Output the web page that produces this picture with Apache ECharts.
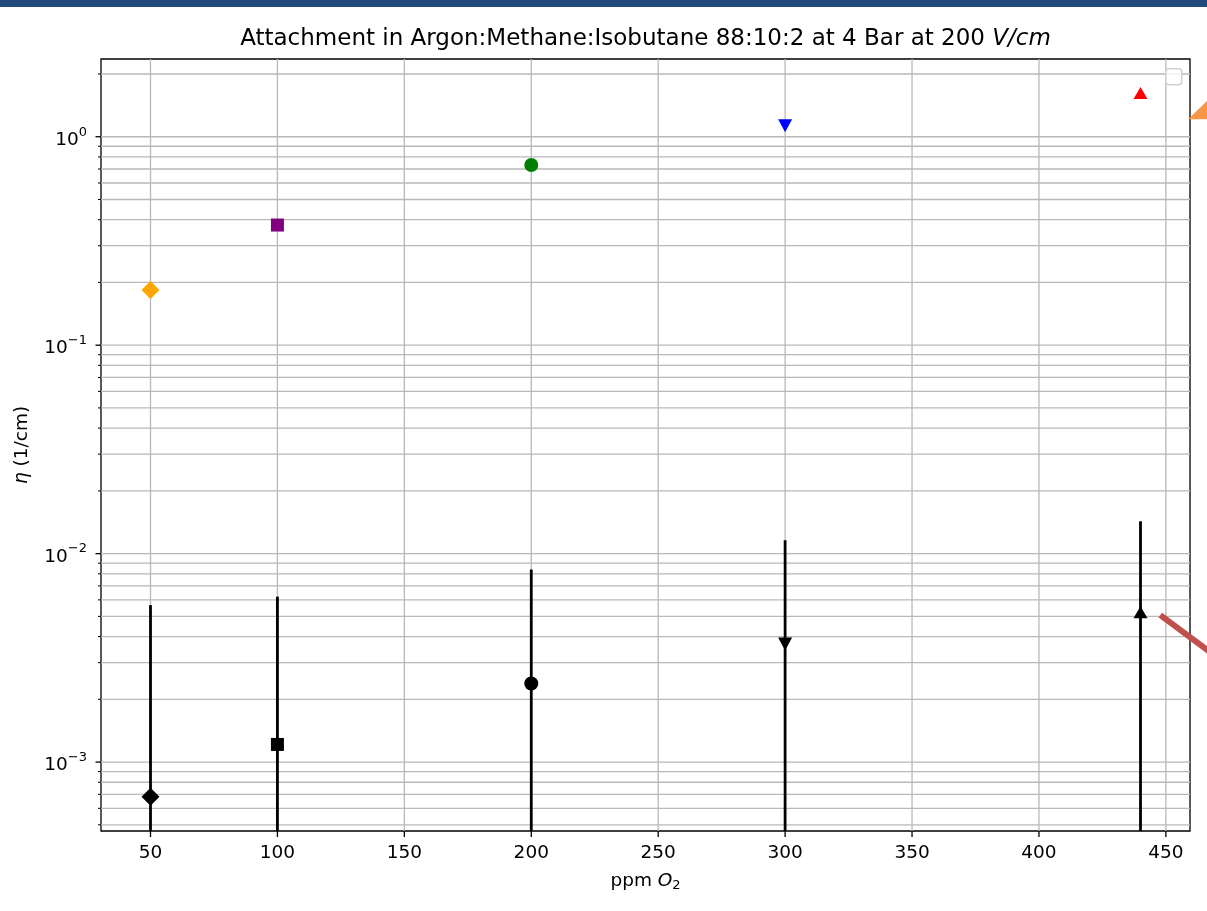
<!DOCTYPE html>
<html>
<head>
<meta charset="utf-8">
<title>Attachment in Argon:Methane:Isobutane</title>
<script src="https://cdn.jsdelivr.net/npm/echarts@6/dist/echarts.min.js"></script>
<style>
  html, body { margin: 0; padding: 0; background: #fff; }
  #chart { width: 1207px; height: 911px; }
</style>
</head>
<body>
<div id="chart"></div>
<script>
/* 刻度 */
const xTicks = [50, 100, 150, 200, 250, 300, 350, 400, 450];
const yMajorTicks = [1e-3, 1e-2, 1e-1, 1];
const yMajorLabels = ["\u22123", "\u22122", "\u22121", "0"]; // 10 的指数
const yMinorTicks = [
  5e-4, 6e-4, 7e-4, 8e-4, 9e-4,
  2e-3, 3e-3, 4e-3, 5e-3, 6e-3, 7e-3, 8e-3, 9e-3,
  2e-2, 3e-2, 4e-2, 5e-2, 6e-2, 7e-2, 8e-2, 9e-2,
  2e-1, 3e-1, 4e-1, 5e-1, 6e-1, 7e-1, 8e-1, 9e-1,
  2
];
const xRange = [30.5, 459.5];
const yRange = [4.67e-4, 2.36];

/* 数据 */
const ppm = [50, 100, 200, 300, 440];
const etaColored = [0.184, 0.377, 0.732, 1.129, 1.62];
const etaBlack = [6.81e-4, 1.215e-3, 2.38e-3, 3.68e-3, 5.24e-3];
const etaBlackErr = [4.98e-3, 5.0e-3, 6.02e-3, 7.92e-3, 9.06e-3];
// 右侧超出坐标区的标记与线段
const outsidePoint = [[464.2, 1.29]];
const outsideLine = [[447.8, 5.07e-3], [480, 2.6e-3]];

/* 每个点的标记样式 */
const markerStyle = [
  { symbol: "diamond", size: 18, color: "#ffa500", rotate: 0 },
  { symbol: "rect", size: 13, color: "#800080", rotate: 0 },
  { symbol: "circle", size: 14, color: "#008000", rotate: 0 },
  { symbol: "triangle", size: [14, 13], color: "#0000ff", rotate: 180 },
  { symbol: "triangle", size: [14, 12], color: "#ff0000", rotate: 0 },
];

const FONT = "DejaVu Sans";
const gridColor = "#b9b9b9";
const tickFont = 18.5;

function markerSeries(values, black) {
  return ppm.map((x, i) => {
    const m = markerStyle[i];
    return {
      type: "scatter",
      z: 5,
      data: [[x, values[i]]],
      symbol: m.symbol,
      symbolSize: m.size,
      symbolRotate: m.rotate,
      itemStyle: { color: black ? "#000" : m.color, opacity: 1 },
    };
  });
}

const yTickValues = yMajorTicks.concat(yMinorTicks);

let option = {
  backgroundColor: "#fff",
  animation: false,
  textStyle: { fontFamily: FONT },
  grid: {
    left: 101,
    right: 17,
    top: 59,
    bottom: 80,
    show: true,
    borderColor: "#000",
    borderWidth: 1.3,
    backgroundColor: "transparent",
  },
  xAxis: {
    type: "value",
    min: xRange[0],
    max: xRange[1],
    axisLine: { show: false },
    axisTick: { show: false },
    axisLabel: { show: false },
    splitLine: { show: false },
  },
  yAxis: {
    type: "log",
    logBase: 10,
    min: yRange[0],
    max: yRange[1],
    axisLine: { show: false },
    axisTick: { show: false },
    axisLabel: { show: false },
    splitLine: { show: false },
  },
  graphic: [
    // 顶部色条
    { type: "rect", left: 0, top: 0, shape: { width: 1207, height: 7 }, style: { fill: "#224a7d" }, z: 10 },
    // 标题
    {
      type: "text",
      x: 645.5,
      y: 39.5,
      style: {
        text: "Attachment in Argon:Methane:Isobutane 88:10:2 at 4 Bar at 200 {i|V/cm}",
        font: "23px " + FONT,
        fill: "#000",
        align: "center",
        verticalAlign: "middle",
        rich: { i: { fontStyle: "italic", fontSize: 23, fontFamily: FONT } },
      },
    },
    // x 轴名称
    {
      type: "text",
      x: 645.5,
      y: 881,
      style: {
        text: "ppm {i|O}{s|2}",
        font: tickFont + "px " + FONT,
        fill: "#000",
        align: "center",
        verticalAlign: "middle",
        rich: {
          i: { fontStyle: "italic", fontSize: tickFont, fontFamily: FONT, lineHeight: 22 },
          s: { fontSize: 13, fontFamily: FONT, verticalAlign: "bottom", lineHeight: 13, padding: [8, 0, 0, 0] },
        },
      },
    },
    // y 轴名称
    {
      type: "text",
      x: 22,
      y: 445,
      rotation: Math.PI / 2,
      style: {
        text: "{i|\u03b7} (1/cm)",
        font: tickFont + "px " + FONT,
        fill: "#000",
        align: "center",
        verticalAlign: "middle",
        rich: { i: { fontStyle: "italic", fontSize: tickFont, fontFamily: FONT } },
      },
    },
    // 空图例框
    {
      type: "rect",
      left: 1165,
      top: 68,
      shape: { width: 16, height: 16, r: 3 },
      style: { fill: "rgba(255,255,255,0.8)", stroke: "#d0d0d0", lineWidth: 1.5 },
      z: 6,
    },
  ],
  series: [
    /* 纵向网格线 + x 刻度 */
    {
      type: "custom",
      z: 1,
      clip: false,
      silent: true,
      data: xTicks.map((v) => [v, yRange[0]]),
      renderItem: function (params, api) {
        const cs = params.coordSys;
        const p = api.coord([api.value(0), yRange[0]]);
        const bottom = cs.y + cs.height;
        return {
          type: "group",
          children: [
            { type: "line", shape: { x1: p[0], y1: cs.y, x2: p[0], y2: bottom }, style: { stroke: gridColor, lineWidth: 1.3 } },
            { type: "line", shape: { x1: p[0], y1: bottom, x2: p[0], y2: bottom + 6 }, style: { stroke: "#000", lineWidth: 1.3 } },
            {
              type: "text",
              style: {
                text: String(api.value(0)),
                x: p[0],
                y: bottom + 22,
                fill: "#000",
                font: tickFont + "px " + FONT,
                align: "center",
                verticalAlign: "middle",
              },
            },
          ],
        };
      },
    },
    /* 横向网格线 + y 刻度 */
    {
      type: "custom",
      z: 1,
      clip: false,
      silent: true,
      data: yTickValues.map((v) => [xRange[0], v]),
      renderItem: function (params, api) {
        const cs = params.coordSys;
        const v = api.value(1);
        const p = api.coord([xRange[0], v]);
        const majorIdx = yMajorTicks.indexOf(v);
        const isMajor = majorIdx >= 0;
        const children = [
          { type: "line", shape: { x1: cs.x, y1: p[1], x2: cs.x + cs.width, y2: p[1] }, style: { stroke: gridColor, lineWidth: 1.3 } },
          { type: "line", shape: { x1: cs.x - (isMajor ? 5.5 : 3), y1: p[1], x2: cs.x, y2: p[1] }, style: { stroke: "#000", lineWidth: isMajor ? 1.3 : 1 } },
        ];
        if (isMajor) {
          children.push({
            type: "text",
            style: {
              text: "{b|10}{s|" + yMajorLabels[majorIdx] + "}",
              x: cs.x - 14,
              y: p[1] + 1,
              fill: "#000",
              align: "right",
              verticalAlign: "middle",
              rich: {
                b: { fontSize: tickFont, fontFamily: FONT, lineHeight: 24, verticalAlign: "bottom" },
                s: { fontSize: 13, fontFamily: FONT, lineHeight: 13, verticalAlign: "top" },
              },
            },
          });
        }
        return { type: "group", children: children };
      },
    },
    /* 误差棒 */
    {
      type: "custom",
      z: 3,
      clip: true,
      silent: true,
      data: ppm.map((x, i) => [x, etaBlack[i], etaBlack[i] - etaBlackErr[i], etaBlack[i] + etaBlackErr[i]]),
      renderItem: function (params, api) {
        const cs = params.coordSys;
        const x = api.value(0);
        const lo = api.value(2);
        const hi = api.value(3);
        const top = api.coord([x, hi]);
        // 下限 <= 0 时在对数轴上一直延伸到底部
        const bottomY = lo > 0 ? api.coord([x, lo])[1] : cs.y + cs.height;
        return {
          type: "line",
          shape: { x1: top[0], y1: top[1], x2: top[0], y2: bottomY },
          style: { stroke: "#000", lineWidth: 2.8 },
        };
      },
    },
    ...markerSeries(etaColored, false),
    ...markerSeries(etaBlack, true),
    /* 右侧越界元素 */
    {
      type: "scatter",
      z: 5,
      clip: false,
      data: outsidePoint,
      symbol: "triangle",
      symbolSize: [24, 30],
      symbolRotate: 112,
      itemStyle: { color: "#f79646", opacity: 1 },
    },
    {
      type: "custom",
      z: 5,
      clip: false,
      silent: true,
      data: [outsideLine[0].concat(outsideLine[1])],
      renderItem: function (params, api) {
        const a = api.coord([api.value(0), api.value(1)]);
        const b = api.coord([api.value(2), api.value(3)]);
        return {
          type: "line",
          shape: { x1: a[0], y1: a[1], x2: b[0], y2: b[1] },
          style: { stroke: "#c0504d", lineWidth: 6 },
        };
      },
    },
  ],
};

const myChart = echarts.init(document.getElementById("chart"));
myChart.setOption(option);
window.addEventListener("resize", () => {
  myChart.resize();
});
</script>
</body>
</html>
